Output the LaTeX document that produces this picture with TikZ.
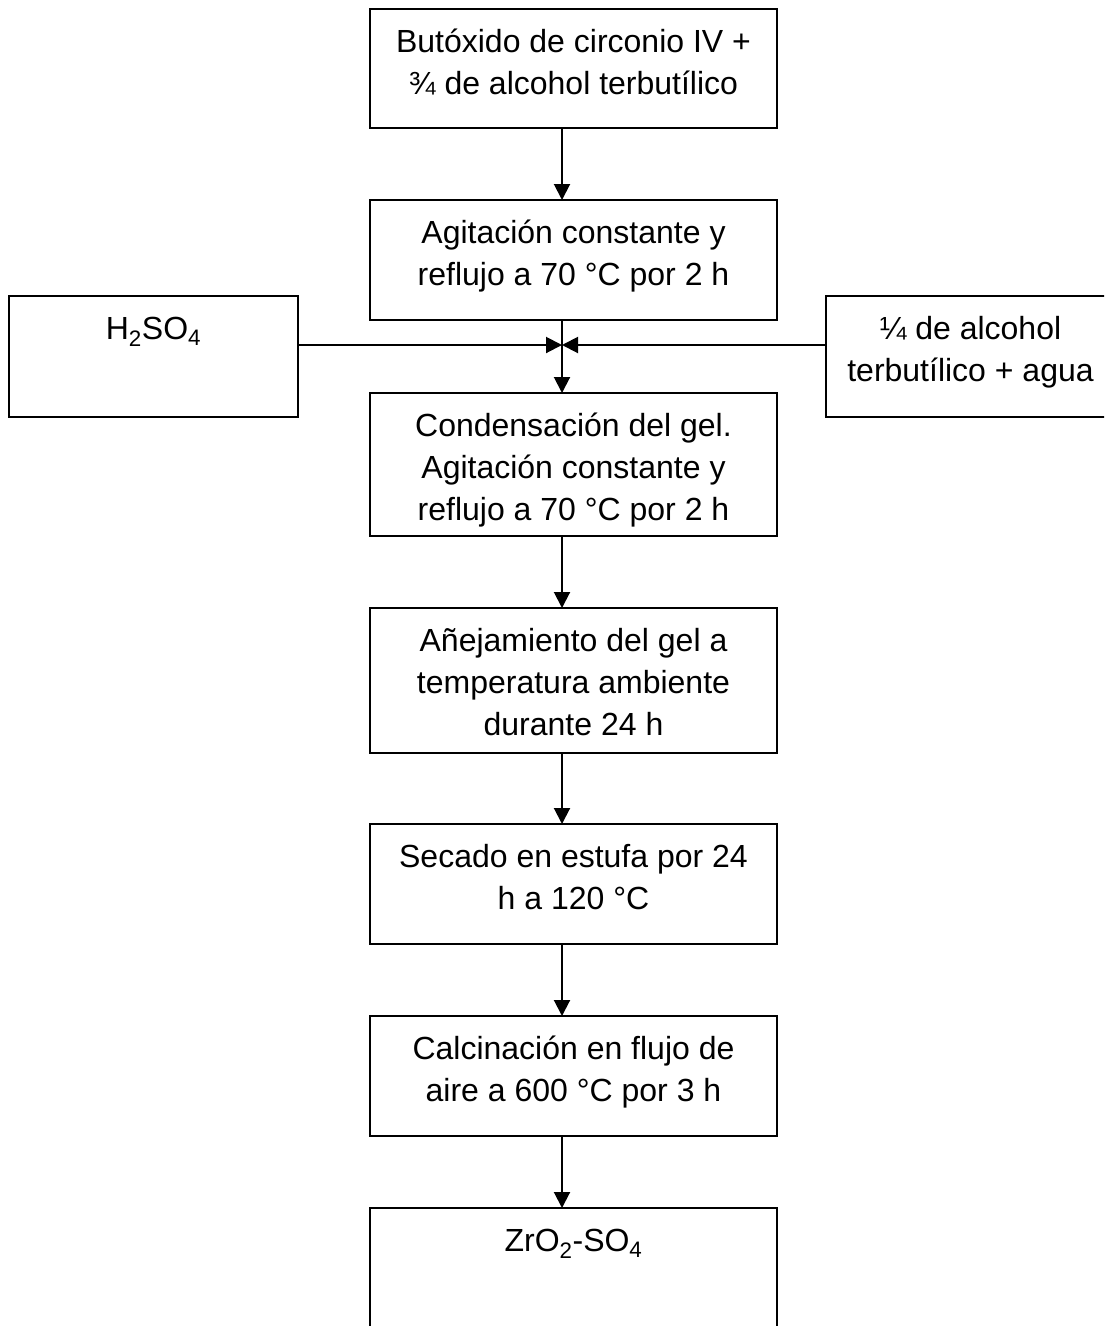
\documentclass[tikz,border=0pt]{standalone}
\usepackage{fontspec}
\setmainfont{Liberation Sans}
\usetikzlibrary{arrows.meta}
\newcommand\bxt[3]{\parbox[c][#2][t]{#1}{\centering\rule{0pt}{43pt}#3}}
\begin{document}
\begin{tikzpicture}[x=1pt,y=-1pt,
  box/.style={draw=black,line width=2pt,inner sep=0pt,outer sep=0pt,anchor=north west,
    font=\fontsize{32}{42}\selectfont},
  arr/.style={line width=2pt,-{Triangle[length=16pt,width=16pt]}}]
\useasboundingbox (0,0) rectangle (1104,1326);
\clip (0,0) rectangle (1104,1326);
\coordinate (ax) at (562,0);
\coordinate (j) at (562,345);
\node[box] (b1) at (370,9) {\bxt{407pt}{119pt}{Butóxido de circonio IV +\\¾ de alcohol terbutílico}};
\node[box] (b2) at (370,200) {\bxt{407pt}{120pt}{Agitación constante y\\reflujo a 70 °C por 2 h}};
\node[box] (lb) at (9,296) {\bxt{289pt}{121pt}{H\textsubscript{2}SO\textsubscript{4}}};
\node[box] (rb) at (826,296) {\bxt{289pt}{121pt}{¼ de alcohol\\terbutílico + agua}};
\node[box] (b3) at (370,393) {\bxt{407pt}{143pt}{Condensación del gel.\\Agitación constante y\\reflujo a 70 °C por 2 h}};
\node[box] (b4) at (370,608) {\bxt{407pt}{145pt}{Añejamiento del gel a\\temperatura ambiente\\durante 24 h}};
\node[box] (b5) at (370,824) {\bxt{407pt}{120pt}{Secado en estufa por 24\\h a 120 °C}};
\node[box] (b6) at (370,1016) {\bxt{407pt}{120pt}{Calcinación en flujo de\\aire a 600 °C por 3 h}};
\node[box] (b7) at (370,1208) {\bxt{407pt}{150pt}{ZrO\textsubscript{2}-SO\textsubscript{4}}};
\draw[arr] (b1.south -| ax) -- (b2.north -| ax);
\draw[arr] (b2.south -| ax) -- (b3.north -| ax);
\draw[arr] (lb.east |- j) -- (j);
\draw[arr] (rb.west |- j) -- (j);
\draw[arr] (b3.south -| ax) -- (b4.north -| ax);
\draw[arr] (b4.south -| ax) -- (b5.north -| ax);
\draw[arr] (b5.south -| ax) -- (b6.north -| ax);
\draw[arr] (b6.south -| ax) -- (b7.north -| ax);
\end{tikzpicture}
\end{document}
